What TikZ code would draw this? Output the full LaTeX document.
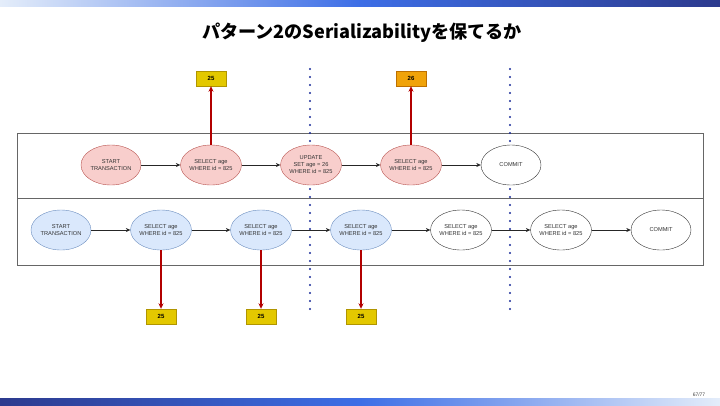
\documentclass[tikz,border=0pt]{standalone}
\usepackage{xcolor}
\usepackage{fontspec}
\setmainfont{Liberation Sans}
\newfontfamily\cjkfont{Noto Sans CJK JP}
\usepackage{tikz}
\usetikzlibrary{arrows.meta,positioning,shapes.geometric}
\definecolor{txafill}{HTML}{F8CECC}
\definecolor{txadraw}{HTML}{B85450}
\definecolor{txbfill}{HTML}{DAE8FC}
\definecolor{txbdraw}{HTML}{6C8EBF}
\definecolor{valyellow}{HTML}{E3C800}
\definecolor{valyellowline}{HTML}{B09500}
\definecolor{valorange}{HTML}{F0A30A}
\definecolor{valorangeline}{HTML}{BD7000}
\definecolor{readred}{HTML}{B20000}
\definecolor{barblue}{HTML}{1A2A99}
\definecolor{bardark}{HTML}{2C3A8E}
\definecolor{barmid}{HTML}{3D6EE6}
\definecolor{barlight}{HTML}{E4EDFA}

\begin{document}
\begin{tikzpicture}[
    x=1bp, y=-1bp,
    on grid,
    node distance=100bp,
    stmt/.style={ellipse, draw=black!80, fill=white, minimum width=60bp, minimum height=40bp, inner sep=0,
        align=center, text=black!80, font=\fontsize{5.7}{7}\selectfont},
    txa/.style={stmt, fill=txafill, draw=txadraw},
    txb/.style={stmt, fill=txbfill, draw=txbdraw},
    val/.style={rectangle, minimum width=30bp, minimum height=15bp, inner sep=0, font=\fontsize{6}{7}\selectfont\bfseries},
    flow/.style={draw=black!85, line width=0.6bp, -{Stealth[length=4.5bp,width=4bp]}},
    readarr/.style={draw=readred, line width=1.2bp, -{Stealth[length=5.5bp,width=5bp]}},
    barrier/.style={draw=barblue, line width=2.4bp, line cap=round, dash pattern=on 0bp off 8bp},
    panel/.style={draw=black!60, line width=0.8bp}]
\useasboundingbox (0,0) rectangle (720,405);
\shade[left color=barlight, right color=bardark, middle color=barmid] (0,0) rectangle (720,6.5);
\shade[left color=bardark, right color=barlight, middle color=barmid] (0,398) rectangle (720,405);

\node[font=\cjkfont\bfseries\fontsize{18.2}{21}\selectfont] (title) at (362,33) {パターン2のSerializabilityを保てるか};

\draw[panel] (17,133) rectangle (703,198);
\draw[panel] (17,198) rectangle (703,265);

\draw[barrier] (310,69) -- (310,310);
\draw[barrier] (510,69) -- (510,310);

\node[txa] (a1) at (111,165) {START\\TRANSACTION};
\node[txa, right=of a1] (a2) {SELECT age\\WHERE id = 825};
\node[txa, right=of a2] (a3) {UPDATE\\SET age = 26\\WHERE id = 825};
\node[txa, right=of a3] (a4) {SELECT age\\WHERE id = 825};
\node[stmt, right=of a4] (a5) {COMMIT};

\node[txb] (b1) at (61,230) {START\\TRANSACTION};
\node[txb, right=of b1] (b2) {SELECT age\\WHERE id = 825};
\node[txb, right=of b2] (b3) {SELECT age\\WHERE id = 825};
\node[txb, right=of b3] (b4) {SELECT age\\WHERE id = 825};
\node[stmt, right=of b4] (b5) {SELECT age\\WHERE id = 825};
\node[stmt, right=of b5] (b6) {SELECT age\\WHERE id = 825};
\node[stmt, right=of b6] (b7) {COMMIT};

\node[val, fill=valyellow, draw=valyellowline, above=86.5bp of a2] (va2) {25};
\node[val, fill=valorange, draw=valorangeline, above=86.5bp of a4] (va4) {26};
\node[val, fill=valyellow, draw=valyellowline, below=86.5bp of b2] (vb2) {25};
\node[val, fill=valyellow, draw=valyellowline, below=86.5bp of b3] (vb3) {25};
\node[val, fill=valyellow, draw=valyellowline, below=86.5bp of b4] (vb4) {25};

\draw[flow] (a1) -- (a2);
\draw[flow] (a2) -- (a3);
\draw[flow] (a3) -- (a4);
\draw[flow] (a4) -- (a5);
\draw[flow] (b1) -- (b2);
\draw[flow] (b2) -- (b3);
\draw[flow] (b3) -- (b4);
\draw[flow] (b4) -- (b5);
\draw[flow] (b5) -- (b6);
\draw[flow] (b6) -- (b7);

\draw[readarr] (a2) -- (va2);
\draw[readarr] (a4) -- (va4);
\draw[readarr] (b2) -- (vb2);
\draw[readarr] (b3) -- (vb3);
\draw[readarr] (b4) -- (vb4);

\node[font=\fontsize{5}{6}\selectfont, text=black!75] (page) at (699,395) {67/77};
\end{tikzpicture}
\end{document}
